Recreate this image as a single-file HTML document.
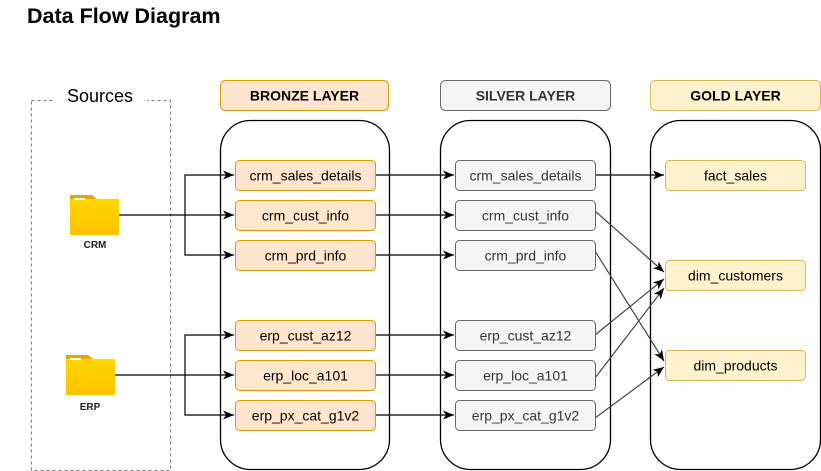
<!DOCTYPE html>
<html><head><meta charset="utf-8"><style>
html,body{margin:0;padding:0;background:#fff;width:821px;height:471px;overflow:hidden}
text{font-family:"Liberation Sans",Arial,sans-serif}
</style></head><body>
<svg width="821" height="471" viewBox="0 0 821 471" xmlns="http://www.w3.org/2000/svg">
<defs>
<marker id="a" markerWidth="12" markerHeight="12" refX="11" refY="6" orient="auto" markerUnits="userSpaceOnUse"><path d="M0,1.5 L11,6 L0,10.5 L3,6 Z" fill="#000"/></marker>
<linearGradient id="fg" x1="0" y1="0" x2="0" y2="1"><stop offset="0" stop-color="#ffd600"/><stop offset="1" stop-color="#ffc200"/></linearGradient>
</defs>
<text x="27" y="23" font-size="21.5" font-weight="bold" fill="#000">Data Flow Diagram</text>
<!-- sources -->
<rect x="31.5" y="100.5" width="139" height="370" fill="none" stroke="#777" stroke-dasharray="3,3"/>
<rect x="55" y="86" width="92" height="22" fill="#fff"/>
<text x="100" y="102" font-size="18" text-anchor="middle" fill="#000">Sources</text>
<!-- CRM folder -->
<path d="M70,195 h22 l5,4 h-27z" fill="#e0a800"/>
<rect x="70" y="199" width="49" height="36" fill="url(#fg)"/>
<rect x="74" y="198" width="11" height="2" fill="#fff"/>
<text x="95" y="248" font-size="10" font-weight="bold" text-anchor="middle" fill="#222">CRM</text>
<!-- ERP folder -->
<path d="M66,355 h22 l5,4 h-27z" fill="#e0a800"/>
<rect x="66" y="359" width="49" height="36" fill="url(#fg)"/>
<rect x="70" y="358" width="11" height="2" fill="#fff"/>
<text x="90" y="410" font-size="10" font-weight="bold" text-anchor="middle" fill="#222">ERP</text>
<!-- headers -->
<rect x="220.5" y="80.5" width="168" height="30" rx="5" fill="#ffe6cc" stroke="#d79b00"/>
<text x="304.5" y="100.5" font-size="14" font-weight="bold" text-anchor="middle">BRONZE LAYER</text>
<rect x="440.5" y="80.5" width="170" height="30" rx="5" fill="#f5f5f5" stroke="#666"/>
<text x="525.5" y="100.5" font-size="14" font-weight="bold" text-anchor="middle" fill="#333">SILVER LAYER</text>
<rect x="650.5" y="80.5" width="170" height="30" rx="5" fill="#fff2cc" stroke="#d6b656"/>
<text x="735.5" y="100.5" font-size="14" font-weight="bold" text-anchor="middle">GOLD LAYER</text>
<!-- containers -->
<rect x="220.5" y="120.5" width="169" height="349" rx="30" fill="none" stroke="#000" stroke-width="1.3"/>
<rect x="440.5" y="120.5" width="170" height="349" rx="30" fill="none" stroke="#000" stroke-width="1.3"/>
<rect x="650.5" y="120.5" width="170" height="349" rx="30" fill="none" stroke="#000" stroke-width="1.3"/>
<g stroke="#000" stroke-width="1.2" fill="none">
<path d="M119,215 H234" marker-end="url(#a)"/>
<path d="M185,215 V175 H234" marker-end="url(#a)"/>
<path d="M185,215 V255 H234" marker-end="url(#a)"/>
<path d="M115,375 H234" marker-end="url(#a)"/>
<path d="M185,375 V335 H234" marker-end="url(#a)"/>
<path d="M185,375 V415 H234" marker-end="url(#a)"/>
<path d="M375,175 H454" marker-end="url(#a)"/>
<path d="M375,215 H454" marker-end="url(#a)"/>
<path d="M375,255 H454" marker-end="url(#a)"/>
<path d="M375,335 H454" marker-end="url(#a)"/>
<path d="M375,375 H454" marker-end="url(#a)"/>
<path d="M375,415 H454" marker-end="url(#a)"/>
<path d="M595,175 H664" marker-end="url(#a)"/>
</g>
<g stroke="#444" stroke-width="1.2" fill="none">
<path d="M595,211 L664,272" marker-end="url(#a)"/>
<path d="M595,251 L664,361" marker-end="url(#a)"/>
<path d="M595,335 L664,279" marker-end="url(#a)"/>
<path d="M595,378 L664,288" marker-end="url(#a)"/>
<path d="M595,418 L664,367" marker-end="url(#a)"/>
</g>
<g font-size="14" text-anchor="middle">
<g fill="#ffe6cc" stroke="#d79b00">
<rect x="235.5" y="160.5" width="140" height="30" rx="4"/>
<rect x="235.5" y="200.5" width="140" height="30" rx="4"/>
<rect x="235.5" y="240.5" width="140" height="30" rx="4"/>
<rect x="235.5" y="320.5" width="140" height="30" rx="4"/>
<rect x="235.5" y="360.5" width="140" height="30" rx="4"/>
<rect x="235.5" y="400.5" width="140" height="30" rx="4"/>
</g>
<text x="305.5" y="180.5">crm_sales_details</text>
<text x="305.5" y="220.5">crm_cust_info</text>
<text x="305.5" y="260.5">crm_prd_info</text>
<text x="305.5" y="340.5">erp_cust_az12</text>
<text x="305.5" y="380.5">erp_loc_a101</text>
<text x="305.5" y="420.5">erp_px_cat_g1v2</text>
<g fill="#f5f5f5" stroke="#666">
<rect x="455.5" y="160.5" width="140" height="30" rx="4"/>
<rect x="455.5" y="200.5" width="140" height="30" rx="4"/>
<rect x="455.5" y="240.5" width="140" height="30" rx="4"/>
<rect x="455.5" y="320.5" width="140" height="30" rx="4"/>
<rect x="455.5" y="360.5" width="140" height="30" rx="4"/>
<rect x="455.5" y="400.5" width="140" height="30" rx="4"/>
</g>
<g fill="#333">
<text x="525.5" y="180.5">crm_sales_details</text>
<text x="525.5" y="220.5">crm_cust_info</text>
<text x="525.5" y="260.5">crm_prd_info</text>
<text x="525.5" y="340.5">erp_cust_az12</text>
<text x="525.5" y="380.5">erp_loc_a101</text>
<text x="525.5" y="420.5">erp_px_cat_g1v2</text>
</g>
<g fill="#fff2cc" stroke="#d6b656">
<rect x="665.5" y="160.5" width="140" height="30" rx="4"/>
<rect x="665.5" y="260.5" width="140" height="30" rx="4"/>
<rect x="665.5" y="350.5" width="140" height="30" rx="4"/>
</g>
<text x="735.5" y="180.5">fact_sales</text>
<text x="735.5" y="280.5">dim_customers</text>
<text x="735.5" y="370.5">dim_products</text>
</g>
</svg>
</body></html>
